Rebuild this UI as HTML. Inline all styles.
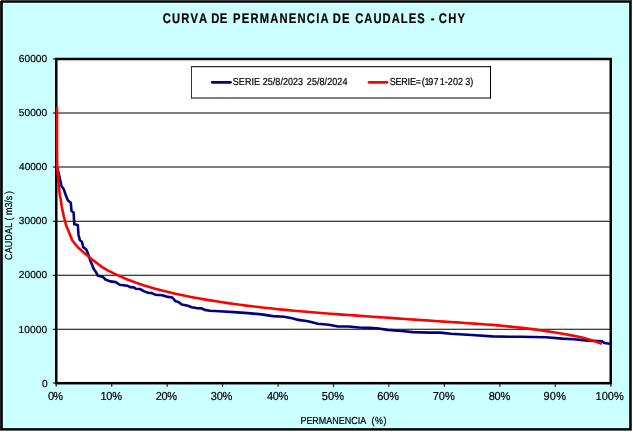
<!DOCTYPE html>
<html lang="es"><head><meta charset="utf-8"><title>Curva de permanencia de caudales - CHY</title>
<style>
html,body{margin:0;padding:0;background:#fff;overflow:hidden}
svg{display:block}
text{font-family:"Liberation Sans",Arial,sans-serif;fill:#000;stroke:#000;stroke-width:0.2px;text-rendering:geometricPrecision}
</style></head><body>
<svg width="633" height="432" viewBox="0 0 633 432">
<rect x="0" y="0" width="633" height="432" fill="#fff"/>
<rect x="0" y="0" width="631.75" height="430.6" fill="#000"/>
<rect x="0" y="0" width="631" height="1" fill="#404040"/>
<rect x="0" y="0" width="1" height="430" fill="#242424"/>
<rect x="0" y="0" width="1" height="1" fill="#ddd"/>
<rect x="2.8" y="2.75" width="626.4" height="425.4" fill="#ccffff"/>
<rect x="56.25" y="59.00" width="554.50" height="324.20" fill="#fff" stroke="#000" stroke-width="2.5"/>
<line x1="57.2" y1="113.0" x2="609.8" y2="113.0" stroke="#000" stroke-width="1.1"/>
<line x1="57.2" y1="167.0" x2="609.8" y2="167.0" stroke="#000" stroke-width="1.1"/>
<line x1="57.2" y1="221.3" x2="609.8" y2="221.3" stroke="#000" stroke-width="1.1"/>
<line x1="57.2" y1="275.3" x2="609.8" y2="275.3" stroke="#000" stroke-width="1.1"/>
<line x1="57.2" y1="329.3" x2="609.8" y2="329.3" stroke="#000" stroke-width="1.1"/>
<line x1="52.9" y1="59.0" x2="55.5" y2="59.0" stroke="#000" stroke-width="1.1"/>
<line x1="52.9" y1="113.0" x2="55.5" y2="113.0" stroke="#000" stroke-width="1.1"/>
<line x1="52.9" y1="167.0" x2="55.5" y2="167.0" stroke="#000" stroke-width="1.1"/>
<line x1="52.9" y1="221.3" x2="55.5" y2="221.3" stroke="#000" stroke-width="1.1"/>
<line x1="52.9" y1="275.3" x2="55.5" y2="275.3" stroke="#000" stroke-width="1.1"/>
<line x1="52.9" y1="329.3" x2="55.5" y2="329.3" stroke="#000" stroke-width="1.1"/>
<line x1="52.9" y1="383.0" x2="55.5" y2="383.0" stroke="#000" stroke-width="1.1"/>
<line x1="56.2" y1="384" x2="56.2" y2="386.8" stroke="#222" stroke-width="1.2"/>
<line x1="111.7" y1="384" x2="111.7" y2="386.8" stroke="#222" stroke-width="1.2"/>
<line x1="167.2" y1="384" x2="167.2" y2="386.8" stroke="#222" stroke-width="1.2"/>
<line x1="222.6" y1="384" x2="222.6" y2="386.8" stroke="#222" stroke-width="1.2"/>
<line x1="278.1" y1="384" x2="278.1" y2="386.8" stroke="#222" stroke-width="1.2"/>
<line x1="333.5" y1="384" x2="333.5" y2="386.8" stroke="#222" stroke-width="1.2"/>
<line x1="388.9" y1="384" x2="388.9" y2="386.8" stroke="#222" stroke-width="1.2"/>
<line x1="444.4" y1="384" x2="444.4" y2="386.8" stroke="#222" stroke-width="1.2"/>
<line x1="499.9" y1="384" x2="499.9" y2="386.8" stroke="#222" stroke-width="1.2"/>
<line x1="555.3" y1="384" x2="555.3" y2="386.8" stroke="#222" stroke-width="1.2"/>
<line x1="610.8" y1="384" x2="610.8" y2="386.8" stroke="#222" stroke-width="1.2"/>
<polyline points="56.9,167.0 58.0,170.8 59.7,177.8 61.4,186.1 63.9,189.6 66.0,195.8 68.0,200.5 70.8,202.8 71.5,211.0 73.6,212.5 74.3,224.3 77.8,225.0 78.5,234.7 79.9,240.3 81.9,241.7 83.3,247.2 86.1,249.3 87.6,252.5 90.4,260.8 93.9,269.2 95.6,271.5 97.8,275.7 102.6,276.7 105.4,279.5 110.2,281.4 115.9,282.1 119.6,284.7 127.2,285.7 130.1,287.1 133.9,287.4 135.8,288.7 140.0,289.0 144.3,291.4 148.1,292.8 151.9,293.1 155.2,294.7 162.3,295.2 168.0,296.9 172.3,297.5 175.6,301.3 178.4,302.0 181.8,304.5 187.9,305.8 191.7,307.3 197.4,308.2 201.7,308.4 204.5,309.9 210.0,310.8 219.4,311.2 233.9,312.1 247.8,313.1 261.7,314.4 272.8,316.1 283.9,316.8 292.2,318.3 298.3,319.9 308.0,321.2 317.8,323.8 328.9,324.7 337.9,326.5 348.3,326.5 359.4,327.5 370.0,327.9 376.7,328.2 387.8,329.9 401.7,331.0 412.8,332.1 429.4,332.6 440.0,332.6 450.8,333.8 471.7,335.0 492.5,336.4 510.0,336.8 520.8,336.8 545.8,337.2 562.5,338.6 573.9,339.2 587.8,340.6 601.7,341.2 604.4,343.0 610.0,343.8" fill="none" stroke="#000080" stroke-width="2.6" stroke-linejoin="round" stroke-linecap="round"/>
<polyline points="57.0,108.0 57.0,150.0 57.2,166.7 58.0,177.0 58.6,184.7 60.0,196.0 60.8,200.0 61.8,206.9 63.9,216.7 66.0,225.0 69.4,233.3 72.2,240.3 77.8,247.2 83.3,252.1 91.1,258.8 102.2,267.1 108.2,270.6 114.2,273.6 120.2,276.4 126.2,279.0 132.2,281.3 138.2,283.4 144.2,285.4 150.2,287.2 156.2,289.0 162.2,290.6 168.2,292.1 174.2,293.5 180.2,294.8 186.2,296.0 192.2,297.2 198.2,298.3 204.2,299.4 210.2,300.4 216.2,301.3 222.2,302.2 228.2,303.1 234.2,304.0 240.2,304.8 246.2,305.6 252.2,306.3 258.2,307.0 264.2,307.7 270.2,308.3 276.2,309.0 282.2,309.6 288.2,310.1 294.2,310.7 300.2,311.2 306.2,311.8 312.2,312.3 318.2,312.7 324.2,313.2 330.2,313.7 336.2,314.1 342.2,314.6 348.2,315.0 354.2,315.4 360.2,315.9 366.2,316.3 372.2,316.7 378.2,317.1 384.2,317.5 390.2,317.9 396.2,318.4 402.2,318.8 408.2,319.2 414.2,319.6 420.2,320.0 426.2,320.4 432.2,320.8 438.2,321.2 444.2,321.6 450.2,322.0 456.2,322.4 462.2,322.8 468.2,323.2 474.2,323.6 480.2,324.0 486.2,324.5 492.2,324.9 498.2,325.4 504.2,326.0 510.2,326.6 516.2,327.2 522.2,327.9 528.2,328.6 534.2,329.4 540.2,330.2 546.2,331.1 552.2,332.0 558.2,333.0 564.2,334.0 570.2,335.1 576.2,336.3 582.2,337.6 588.2,339.2 594.2,341.1 600.2,343.3 600.7,343.5" fill="none" stroke="#ff0000" stroke-width="2.6" stroke-linejoin="round" stroke-linecap="round"/>
<rect x="191.5" y="66.6" width="299" height="31.4" fill="#fff"/>
<line x1="191" y1="66.65" x2="491" y2="66.65" stroke="#2c2c2c" stroke-width="1.1"/>
<line x1="191" y1="98" x2="491" y2="98" stroke="#000" stroke-width="1.1"/>
<line x1="191.5" y1="66.2" x2="191.5" y2="98.5" stroke="#333" stroke-width="1"/>
<line x1="490.5" y1="66.2" x2="490.5" y2="98.5" stroke="#000" stroke-width="1.05"/>
<line x1="212.3" y1="82.3" x2="230.5" y2="82.3" stroke="#000080" stroke-width="2.7" stroke-linecap="round"/>
<line x1="369" y1="82.3" x2="387" y2="82.3" stroke="#ff0000" stroke-width="2.7" stroke-linecap="round"/>
<text transform="translate(0,22.80) scale(0.8,1)" font-size="14.0" font-weight="bold" x="203.44 215.03 226.63 238.22 248.79 256.29 264.00 274.80 282.30 291.25 302.11 312.98 324.61 337.80 349.43 361.07 371.93 383.57 395.20 400.62 408.12 415.87 427.42 434.92 443.94 455.36 466.78 478.21 489.63 501.05 510.92 521.57 529.07 538.44 545.94 548.44 560.20 571.97">CURVA DE PERMANENCIA DE CAUDALES - CHY</text>
<text transform="translate(0,85.00) scale(0.885,1)" font-size="10.17" x="262.99 269.88 276.77 284.22 287.15 290.54 297.01 302.67 308.33 311.17 316.83 319.67 325.33 330.99 336.65 340.04 346.72 352.45 358.18 361.07 366.80 369.70 375.43 381.15 386.88">SERIE 25/8/2023 25/8/2024</text>
<text transform="translate(0,85.00) scale(0.885,1)" font-size="10.17" x="440.28 446.86 453.45 460.59 463.22 469.80 476.50 479.66 483.90 489.89 496.84 502.58 506.06 511.81 517.56 525.59 531.30">SERIE=(1971-2023)</text>
<text transform="translate(0,424.00) scale(0.885,1)" font-size="10.17" x="339.44 346.19 352.94 360.25 368.69 375.44 382.75 389.50 396.81 404.13 406.93 410.32 419.89 423.83 433.43">PERMANENCIA (%)</text>
<text transform="translate(11.85,260.0) rotate(-90) scale(0.885,1)" font-size="10.17" x="0.06 7.50 14.39 21.84 29.29 36.17 40.69 44.63 49.15 50.96 59.29 64.81 67.50 72.02 74.58">CAUDAL ( m3/s )</text>
<text transform="translate(18.80,62.00) scale(1.0,1)" font-size="10.17" textLength="28.34" lengthAdjust="spacing">60000</text>
<text transform="translate(18.80,116.00) scale(1.0,1)" font-size="10.17" textLength="28.34" lengthAdjust="spacing">50000</text>
<text transform="translate(19.05,170.00) scale(1.0,1)" font-size="10.17" textLength="28.09" lengthAdjust="spacing">40000</text>
<text transform="translate(18.80,224.00) scale(1.0,1)" font-size="10.17" textLength="28.34" lengthAdjust="spacing">30000</text>
<text transform="translate(18.80,278.00) scale(1.0,1)" font-size="10.17" textLength="28.34" lengthAdjust="spacing">20000</text>
<text transform="translate(18.55,333.00) scale(1.0,1)" font-size="10.17" textLength="28.59" lengthAdjust="spacing">10000</text>
<text transform="translate(41.90,387.00) scale(1.0,1)" font-size="10.17">0</text>
<text transform="translate(48.05,400.00) scale(0.95,1)" font-size="11.6" textLength="15.71" lengthAdjust="spacing">0%</text>
<text transform="translate(100.40,400.00) scale(0.95,1)" font-size="11.6" textLength="22.78" lengthAdjust="spacing">10%</text>
<text transform="translate(155.65,400.00) scale(0.95,1)" font-size="11.6" textLength="22.52" lengthAdjust="spacing">20%</text>
<text transform="translate(210.75,400.00) scale(0.95,1)" font-size="11.6" textLength="22.78" lengthAdjust="spacing">30%</text>
<text transform="translate(267.00,400.00) scale(0.95,1)" font-size="11.6" textLength="22.52" lengthAdjust="spacing">40%</text>
<text transform="translate(321.85,400.00) scale(0.95,1)" font-size="11.6" textLength="23.25" lengthAdjust="spacing">50%</text>
<text transform="translate(377.20,400.00) scale(0.95,1)" font-size="11.6" textLength="23.04" lengthAdjust="spacing">60%</text>
<text transform="translate(432.80,400.00) scale(0.95,1)" font-size="11.6" textLength="23.04" lengthAdjust="spacing">70%</text>
<text transform="translate(488.65,400.00) scale(0.95,1)" font-size="11.6" textLength="22.78" lengthAdjust="spacing">80%</text>
<text transform="translate(543.60,400.00) scale(0.95,1)" font-size="11.6" textLength="23.52" lengthAdjust="spacing">90%</text>
<text transform="translate(595.55,400.00) scale(0.95,1)" font-size="11.6" textLength="29.71" lengthAdjust="spacing">100%</text>
</svg></body></html>
